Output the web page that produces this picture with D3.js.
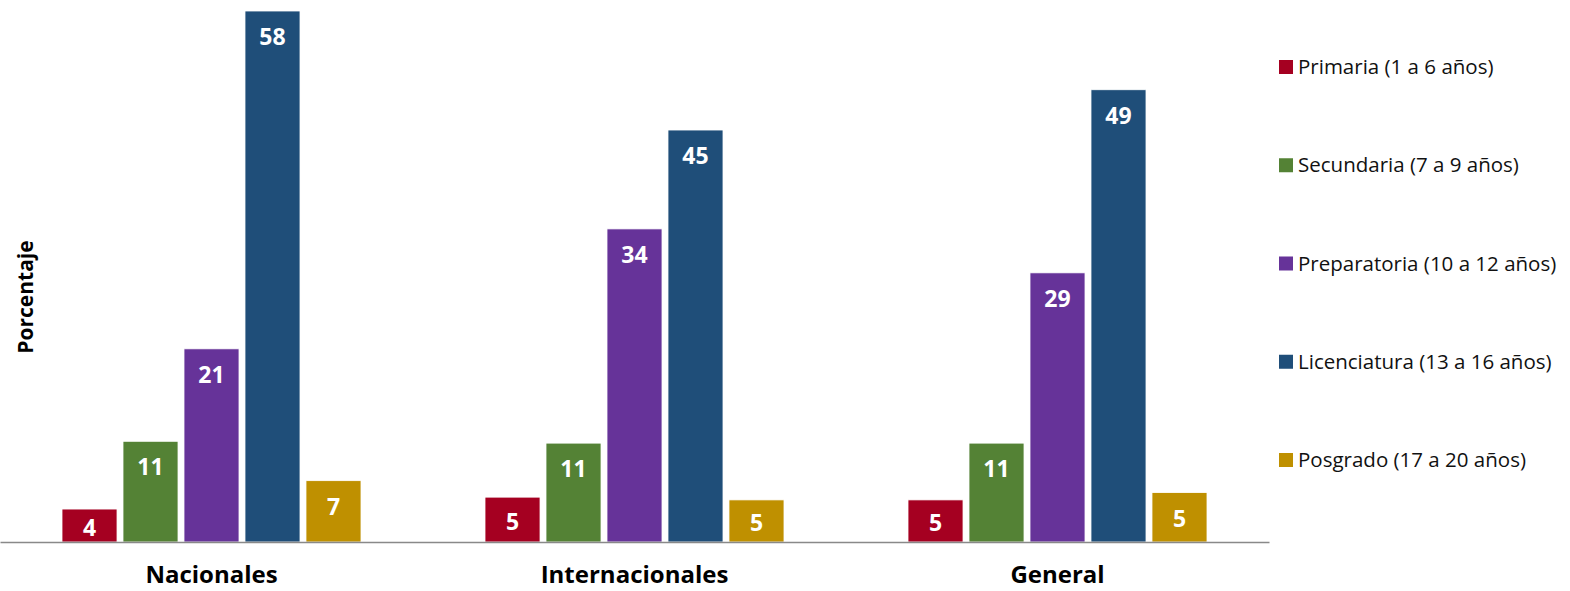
<!DOCTYPE html>
<html>
<head>
<meta charset="utf-8">
<script src="https://cdn.jsdelivr.net/npm/d3@7"></script>
<style>
  body { margin: 0; background: #fff; }
  svg { display: block; font-family: "Open Sans", "Noto Sans", sans-serif; }
</style>
</head>
<body>
<div id="chart"></div>
<script>
// datos
var grupos = ["Nacionales", "Internacionales", "General"];
var niveles = ["Primaria (1 a 6 años)", "Secundaria (7 a 9 años)", "Preparatoria (10 a 12 años)",
               "Licenciatura (13 a 16 años)", "Posgrado (17 a 20 años)"];
var colores = ["#A50021", "#548235", "#663399", "#1F4E79", "#BF9000"];
var nacionales = [3.6, 11.0, 21.1, 58.0, 6.7];
var internacionales = [4.9, 10.8, 34.2, 45.0, 4.6];
var general = [4.6, 10.8, 29.4, 49.4, 5.4];
var valores = [nacionales, internacionales, general];

var width = 1570, height = 591;
var base = 542;

var svg = d3.select("#chart").append("svg")
    .attr("width", width)
    .attr("height", height);

var x0 = d3.scaleBand().domain(grupos).range([0, 1269]);
var x1 = d3.scaleBand().domain(d3.range(niveles.length)).range([62, 361]).paddingInner(0.098);
var y = d3.scaleLinear().domain([0, 58]).range([base, 11]);
var color = d3.scaleOrdinal().domain(niveles).range(colores);

var g = svg.selectAll("g.grupo")
    .data(grupos)
    .enter().append("g")
    .attr("class", "grupo")
    .attr("transform", function(d) { return "translate(" + x0(d) + ",0)"; });

var barras = g.selectAll("g.barra")
    .data(function(d, i) { return valores[i].map(function(v, j) { return {v: v, j: j}; }); })
    .enter().append("g")
    .attr("class", "barra");

barras.append("rect")
    .attr("x", function(d) { return x1(d.j); })
    .attr("y", function(d) { return y(d.v); })
    .attr("width", x1.bandwidth())
    .attr("height", function(d) { return base - y(d.v); })
    .attr("fill", function(d) { return colores[d.j]; })
    .attr("stroke", "#fff")
    .attr("stroke-width", 0.8);

var fmt = d3.format(".0f");
barras.append("text")
    .attr("x", function(d) { return x1(d.j) + x1.bandwidth() / 2; })
    .attr("y", function(d) { var t = y(d.v); return Math.min(t + 25, (t + base) / 2 + 1); })
    .attr("text-anchor", "middle")
    .attr("dominant-baseline", "central")
    .attr("fill", "#fff")
    .attr("font-weight", "bold")
    .attr("font-size", "23px")
    .text(function(d) { return fmt(d.v); });

// eje x
var ejeX = d3.axisBottom(x0).tickSize(0).tickPadding(24);
svg.append("g")
    .attr("transform", "translate(0," + base + ")")
    .call(ejeX)
    .call(function(s) {
      s.select(".domain").attr("stroke", "#898989").attr("stroke-width", 1.5);
      s.selectAll("text")
        .attr("font-family", "'Open Sans', sans-serif")
        .attr("font-size", "24px")
        .attr("font-weight", "bold")
        .attr("fill", "#000");
    });

// titulo eje y
svg.append("text")
    .attr("transform", "translate(33,297) rotate(-90)")
    .attr("text-anchor", "middle")
    .attr("font-weight", "bold")
    .attr("font-size", "21px")
    .attr("fill", "#000")
    .text("Porcentaje");

// leyenda
var ly = d3.scalePoint().domain(niveles).range([67, 460]);
var ley = svg.selectAll("g.ley")
    .data(niveles)
    .enter().append("g")
    .attr("class", "ley")
    .attr("transform", function(d) { return "translate(1279," + ly(d) + ")"; });

ley.append("rect")
    .attr("x", 0).attr("y", -7)
    .attr("width", 14).attr("height", 14)
    .attr("fill", function(d) { return color(d); });

ley.append("text")
    .attr("x", 19)
    .attr("dy", "0.35em")
    .attr("font-size", "20.5px")
    .attr("fill", "#111")
    .text(function(d) { return d; });
</script>
</body>
</html>
